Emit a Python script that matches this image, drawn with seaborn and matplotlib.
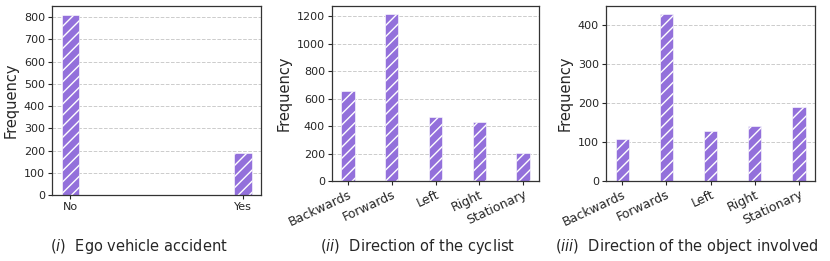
import numpy as np
import pandas as pd
import matplotlib
matplotlib.use('Agg')
import matplotlib.pyplot as plt
from matplotlib.ticker import MultipleLocator
import seaborn as sns

# values
accident_labels = ['No', 'Yes']
accident_counts = [810, 188]

direction_labels = ['Backwards', 'Forwards', 'Left', 'Right', 'Stationary']
cyclist_counts = [655, 1215, 465, 430, 205]
object_counts = [107, 428, 128, 140, 190]

captions = [('(i)', 'Ego vehicle accident'),
            ('(ii)', 'Direction of the cyclist'),
            ('(iii)', 'Direction of the object involved')]

sns.set_style('white')
plt.rcParams['font.family'] = ['DejaVu Sans']
plt.rcParams['hatch.linewidth'] = 1.0

BAR_COLOR = '#9370DB'


def draw_panel(ax, labels, counts, width, rotate, ystep):
    df = pd.DataFrame({'label': labels, 'count': counts})
    sns.barplot(ax=ax, data=df, x='label', y='count', color=BAR_COLOR,
                width=width, saturation=1, edgecolor='white', linewidth=0.4,
                hatch='///', zorder=2)
    # back to matplotlib's usual 5% margins instead of seaborn's category padding
    ax.set_autoscalex_on(True)
    ax.relim()
    ax.autoscale_view(scaley=False)
    ax.yaxis.set_major_locator(MultipleLocator(ystep))
    ax.set_xlabel('')
    ax.set_ylabel('Frequency', fontsize=10.5)
    ax.yaxis.grid(True, linestyle='--', color='#cccccc', linewidth=0.7)
    ax.set_axisbelow(True)
    ax.tick_params(axis='y', labelsize=8)
    ax.tick_params(axis='x', labelsize=9 if rotate else 8)
    ax.tick_params(axis='both', length=3, width=0.8, bottom=True, left=True, pad=2)
    for s in ax.spines.values():
        s.set_color('#333333')
        s.set_linewidth(0.9)
    if rotate:
        plt.setp(ax.get_xticklabels(), rotation=25, ha='right',
                 rotation_mode='anchor')


fig = plt.figure(figsize=(8.3, 2.61), dpi=100)
ax1 = fig.add_axes([52 / 830, 66 / 261, 209 / 830, 189 / 261])
ax2 = fig.add_axes([332 / 830, 80 / 261, 207 / 830, 175 / 261])
ax3 = fig.add_axes([606 / 830, 80 / 261, 209 / 830, 175 / 261])

draw_panel(ax1, accident_labels, accident_counts, 0.1, False, 100)
draw_panel(ax2, direction_labels, cyclist_counts, 0.3, True, 200)
draw_panel(ax3, direction_labels, object_counts, 0.3, True, 100)

for cx, (tag, text) in zip([139, 418, 687], captions):
    fig.text(cx / 830, 1 - 247 / 261, r'$\it{' + tag + '}$  ' + text,
             ha='center', va='center', fontsize=10.5)

fig.savefig('out.png', dpi=100)
